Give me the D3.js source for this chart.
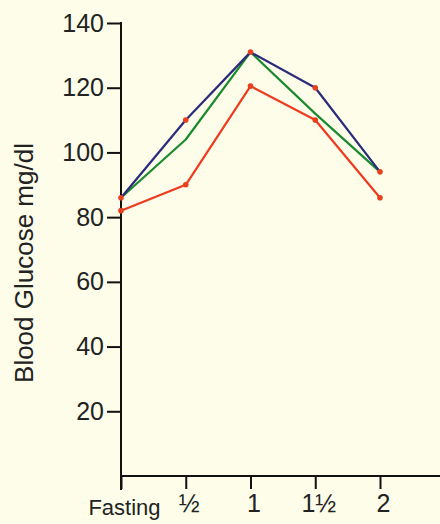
<!DOCTYPE html>
<html>
<head>
<meta charset="utf-8">
<script src="https://cdn.jsdelivr.net/npm/d3@7"></script>
<style>
  html, body { margin: 0; padding: 0; background: #fdfde9; }
  svg { display: block; font-family: "Liberation Sans", Arial, sans-serif; }
</style>
</head>
<body>
<svg id="chart" width="440" height="524"></svg>
<script>
// Time points (hours after glucose load) and their axis labels
const times = [0, 0.5, 1, 1.5, 2];
const timeLabels = ["Fasting", "½", "1", "1½", "2"];
const yTicks = [20, 40, 60, 80, 100, 120, 140];

// Blood glucose curves (mg/dl)
const seriesBlue = [86, 110, 131, 120, 94];
const seriesGreen = [86, 104, 131, 112, 94];
const seriesRed = [82, 90, 120.5, 110, 86];

const svg = d3.select("#chart");
const x = d3.scaleLinear().domain([0, 2]).range([121, 380]);
const y = d3.scaleLinear().domain([0, 140]).range([476, 23]);

// Y axis
const yAxis = svg.append("g").attr("transform", "translate(121,0)")
  .call(d3.axisLeft(y).tickValues(yTicks).tickSize(14).tickSizeOuter(0).tickPadding(3));
yAxis.select(".domain").remove();
yAxis.selectAll(".tick line").attr("stroke", "#111").attr("stroke-width", 2);
yAxis.selectAll(".tick text").attr("font-size", 25).attr("fill", "#222")
  .attr("font-family", "Liberation Sans, Arial, sans-serif");
svg.append("line").attr("x1", 121).attr("x2", 121).attr("y1", y(140) - 1).attr("y2", 490)
  .attr("stroke", "#111").attr("stroke-width", 2);

// X axis
const xAxis = svg.append("g").attr("transform", `translate(0,${y(0)})`)
  .call(d3.axisBottom(x).tickValues(times).tickSize(13).tickSizeOuter(0)
    .tickFormat((d, i) => timeLabels[i]).tickPadding(5));
xAxis.select(".domain").remove();
xAxis.selectAll(".tick line").attr("stroke", "#111").attr("stroke-width", 2);
xAxis.selectAll(".tick text")
  .attr("font-family", "Liberation Sans, Arial, sans-serif")
  .attr("fill", "#222")
  .attr("font-size", (d, i) => i === 0 ? 22 : 25)
  .attr("dx", (d, i) => i === 0 ? 3 : 3)
  .attr("dy", (d, i) => i === 0 ? "0.95em" : "0.72em");
svg.append("line").attr("x1", 120).attr("x2", 440).attr("y1", y(0)).attr("y2", y(0))
  .attr("stroke", "#111").attr("stroke-width", 2);

// Y axis title
svg.append("text")
  .attr("transform", "translate(33,263) rotate(-90)")
  .attr("text-anchor", "middle")
  .attr("font-size", 26)
  .attr("fill", "#222")
  .text("Blood Glucose mg/dl");

// Curves
const line = d3.line().x((d, i) => x(times[i])).y(d => y(d));
const curves = [
  { values: seriesRed, color: "#ee3a1f", dots: true },
  { values: seriesGreen, color: "#1b8a2e", dots: false },
  { values: seriesBlue, color: "#2b2b7c", dots: true }
];
curves.forEach(c => {
  svg.append("path").datum(c.values)
    .attr("d", line).attr("fill", "none")
    .attr("stroke", c.color).attr("stroke-width", 2.2)
    .attr("stroke-linejoin", "round");
});
curves.filter(c => c.dots).forEach(c => {
  svg.selectAll(null).data(c.values).enter().append("circle")
    .attr("cx", (d, i) => x(times[i])).attr("cy", d => y(d))
    .attr("r", 2.8).attr("fill", "#e8401f");
});
</script>
</body>
</html>
